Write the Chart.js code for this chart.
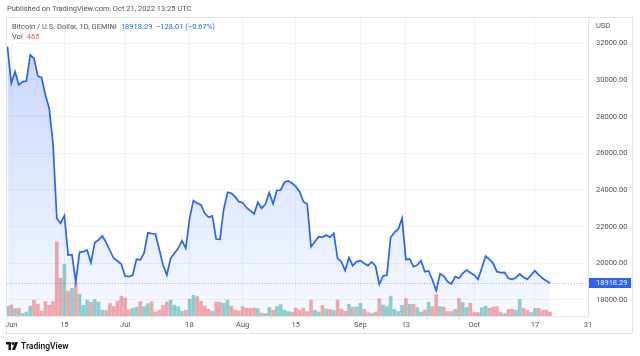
<!DOCTYPE html>
<html><head><meta charset="utf-8">
<script src="https://cdn.jsdelivr.net/npm/chart.js@4.4.1/dist/chart.umd.min.js"></script>
<style>
html,body{margin:0;padding:0;background:#fff;}
#wrap{position:relative;width:640px;height:356px;overflow:hidden;font-family:Roboto,"Open Sans",sans-serif;}
canvas{position:absolute;left:0;top:0;}
.t{position:absolute;white-space:nowrap;font-size:7.5px;line-height:9px;color:#50535e;}
</style></head><body>
<div id="wrap">
<canvas id="c" width="640" height="356"></canvas>
<div class="t" style="left:7px;top:4px;">Published on TradingView.com, Oct 21, 2022 13:25 UTC</div>
<div class="t" style="left:12px;top:21.5px;"><span id="sym"></span><span id="chg" style="color:#2962ff;margin-left:4px"></span></div>
<div class="t" style="left:12px;top:31.5px;">Vol<span id="vol" style="color:#ef5350;margin-left:4px"></span></div>
<div class="t" id="usd" style="left:596px;top:21px;">USD</div>
<div style="position:absolute;left:6px;top:341px;display:flex;align-items:center;">
<svg width="12" height="8" viewBox="0 0 12 8"><path d="M0 0H5V8H2.5V2.5H0Z" fill="#131722"/><circle cx="7" cy="1.6" r="1.5" fill="#131722"/><path d="M9 0H12L9 8H6Z" fill="#131722"/></svg>
<span style="font-size:8.5px;font-weight:600;color:#131722;margin-left:3px;line-height:10px;">TradingView</span>
</div>
</div>
<script>
// Daily closes, BTC/USD (GEMINI), starting 2022-05-31 (index 0) to 2022-10-21
const symbol = 'Bitcoin / U.S. Dollar, 1D, GEMINI';
const price = [
  31818,
  // June
  29821,30454,29728,29910,29946,31365,31184,30219,30126,29183,28457,26548,22457,22184,22599,
  20455,20470,18998,20602,20635,20728,20035,21126,21273,21491,21140,20700,20275,20127,19964,
  // July
  19309,19271,19347,20220,20190,20548,21671,21620,21600,20766,19909,19364,20275,20548,20820,
  21235,20820,22457,23417,23273,23182,22730,22511,22582,21327,21311,22950,23875,23820,23635,23362,
  // August
  23308,23035,22871,22691,23329,23002,23237,23853,23237,23980,24000,24420,24491,24365,24180,
  23908,23362,23237,20908,21180,21453,21420,21546,21420,21638,20275,20090,19610,20310,19873,20090,
  // September
  20145,20000,19873,20073,19855,18855,19309,19347,21420,21693,21873,22457,20200,20240,19818,
  19909,20145,19544,19582,19091,18509,19430,19300,18998,18880,19271,19184,19455,19637,19490,
  // October
  19364,19129,19729,20400,20220,20000,19544,19490,19510,19184,19129,19216,19418,19238,19129,
  19364,19600,19364,19184,19046.30,18918.29
];
const volume = [
  1163,
  // June
  1279,849,930,267,465,1163,1860,1395,581,1662,1244,1662,8637,4383,6010,
  2906,3220,3871,2523,1244,1860,1628,1941,1628,698,616,1430,1081,1744,2325,
  // July
  2093,698,895,1046,1662,1081,1430,1662,465,698,1244,1628,1860,1279,1081,
  581,663,1941,2406,2244,1709,1163,779,581,1628,1628,1476,1860,1163,698,581,
  // August
  1081,895,895,930,849,349,267,1011,663,1081,1314,698,500,465,930,
  698,930,500,1860,663,465,1244,814,732,616,1860,779,546,1360,1046,1046,
  // September
  1476,779,384,267,465,2011,1279,1081,2325,779,500,1244,2011,1360,1360,
  965,465,698,1628,1081,2476,1081,1046,500,500,779,2011,1546,965,1476,
  // October
  384,384,965,1163,895,1046,1081,384,267,779,779,663,1941,895,663,
  384,849,895,663,698,465
];
// Time axis ticks (day index from 2022-05-31) and labels
const tickDays   = [1,15,31,48,62,76,93,105,123,139,153];
const tickLabels = ['Jun','15','Jul','18','Aug','15','Sep','13','Oct','17','31'];
// Price axis ticks
const priceTicks = [18000,20000,22000,24000,26000,28000,30000,32000];

const last = price[price.length-1];
const prev = price[price.length-2];
const ch = last - prev;
const fmt = v => (v<0?'\u2212':'') + Math.abs(v).toFixed(2);
document.getElementById('sym').textContent = symbol;
document.getElementById('chg').textContent = last.toFixed(2) + '\u00a0\u00a0' + fmt(ch) + ' (' + fmt(ch/prev*100) + '%)';
document.getElementById('vol').textContent = volume[volume.length-1];

const linePts = price.map((p,i)=>({x:i,y:p}));
const volPts = volume.map((v,i)=>({x:i,y:v}));
const volColors = price.map((p,i)=> (i===0 || p>=price[i-1]) ? 'rgba(38,166,154,0.5)' : 'rgba(239,83,80,0.5)');

const FONT = {family:'Roboto, "Open Sans", sans-serif', size:7.5};
const deco = {
  id:'deco',
  afterDatasetsDraw(chart){
    const {ctx, chartArea:a, scales:{y}} = chart;
    const py = Math.round(y.getPixelForValue(last))+0.5;
    ctx.save();
    ctx.strokeStyle='rgba(41,98,255,0.5)'; ctx.lineWidth=1; ctx.setLineDash([1,2]);
    ctx.beginPath(); ctx.moveTo(a.left,py); ctx.lineTo(a.right,py); ctx.stroke();
    ctx.restore();
  },
  afterDraw(chart){
    const {ctx, chartArea:a, scales:{y}} = chart;
    const py = Math.round(y.getPixelForValue(last));
    ctx.save();
    ctx.strokeStyle='#e0e3eb'; ctx.lineWidth=1;
    ctx.strokeRect(6.5,17.5,626,316);
    ctx.fillStyle='#2962ff';
    ctx.fillRect(a.right+1, py-5, 42, 10);
    ctx.fillStyle='#ffffff';
    ctx.font = '7.5px Roboto, "Open Sans", sans-serif';
    ctx.textBaseline='middle'; ctx.textAlign='left';
    ctx.fillText(last.toFixed(2), a.right+8, py+0.5);
    ctx.restore();
  }
};

new Chart(document.getElementById('c'), {
  type:'line',
  data:{datasets:[
    {type:'line', data:linePts, borderColor:'#2962ff', borderWidth:1.7, pointRadius:0, tension:0,
     fill:'start', order:0, yAxisID:'y',
     backgroundColor:(ctx)=>{
       const {chart}=ctx; const a=chart.chartArea; if(!a) return 'rgba(41,98,255,0.1)';
       const g=chart.ctx.createLinearGradient(0,a.top,0,a.bottom);
       g.addColorStop(0,'rgba(41,98,255,0.28)'); g.addColorStop(1,'rgba(41,98,255,0.04)');
       return g;
     }},
    {type:'bar', data:volPts, backgroundColor:volColors, barThickness:3, order:1, yAxisID:'v'}
  ]},
  options:{
    responsive:false, animation:false, events:[],
    layout:{padding:{left:6,top:17,right:8,bottom:23}},
    plugins:{legend:{display:false}, tooltip:{enabled:false}},
    scales:{
      x:{type:'linear', min:-0.18, max:153, offset:false,
         afterBuildTicks:s=>{s.ticks = tickDays.map(v=>({value:v}));},
         ticks:{callback:(v,i)=>tickLabels[i], autoSkip:false, maxRotation:0, padding:5, color:'#50535e', font:FONT},
         grid:{color:'#f0f3fa', drawTicks:false, offset:false},
         border:{color:'#e0e3eb'},
         afterFit:s=>{s.height=17;}},
      y:{type:'linear', position:'right', min:17127, max:33435,
         afterBuildTicks:s=>{s.ticks = priceTicks.map(v=>({value:v}));},
         ticks:{callback:v=>Number(v).toFixed(2), padding:8, color:'#50535e', font:FONT},
         grid:{color:'#f0f3fa', drawTicks:false},
         border:{color:'#e0e3eb'},
         afterFit:s=>{s.width=44;}},
      v:{type:'linear', display:false, min:0, max:34760}
    }
  },
  plugins:[deco]
});
</script>
</body></html>
